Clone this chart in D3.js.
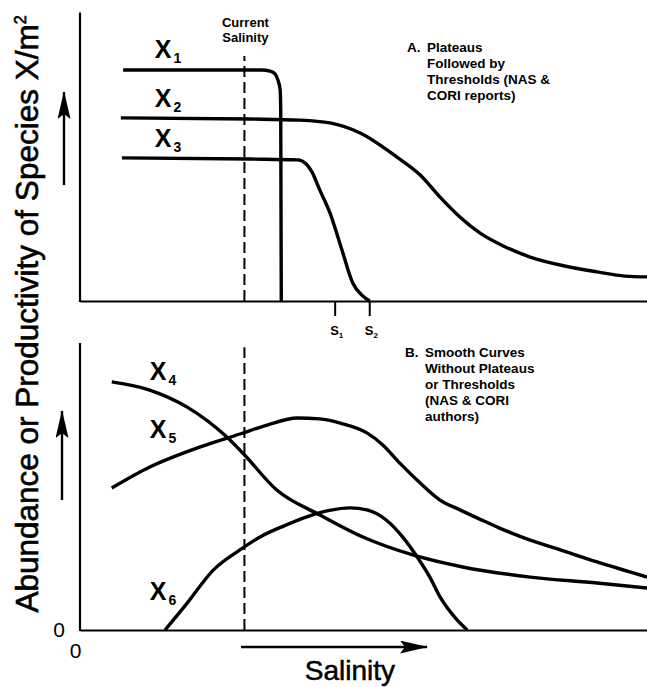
<!DOCTYPE html>
<html>
<head>
<meta charset="utf-8">
<script src="https://cdn.jsdelivr.net/npm/d3@7"></script>
<style>
  body { margin: 0; background: #fff; }
  svg { display: block; font-family: "Liberation Sans", Arial, Helvetica, sans-serif; }
</style>
</head>
<body>
<svg id="chart"></svg>
<script>
var svgWidth = 647, svgHeight = 687;

// salinity (0-100) vs abundance (0-100)
// A. plateaus followed by thresholds
var x1Curve = [[7.6,82.5],[32.1,82.5],[33.5,82.1],[34.4,81.1],[34.9,78.9],[35.3,75.4],[35.4,68.2],[35.5,0]];
var x2Curve = [[7.2,65.4],[30,65],[38.8,64.6],[44.1,63.6],[49.4,60],[55.9,51.4],[60,45],[63.5,37.1],[67,30],[70.5,24.3],[75,19.3],[79.4,15.7],[85.5,12.5],[91.2,10.4],[96.1,8.9],[100,8.6]];
var x3Curve = [[7.4,51.1],[30,50.7],[38.4,50.4],[39.9,48.9],[40.9,46.1],[42.3,39.6],[44.1,31.4],[46.2,18.2],[48.1,6.4],[49.7,2.1],[51.1,0]];

// B. smooth curves without plateaus or thresholds
var x4Curve = [[5.6,88.6],[12.3,85.7],[18.9,79.6],[25.9,68.9],[28.7,63.2],[34.7,50],[42.3,41.1],[49.9,33.2],[58.7,26.8],[67.5,22.5],[79.4,18.9],[91.2,16.8],[100,15]];
var x5Curve = [[5.6,50.7],[12.3,58.2],[21.2,65.4],[28.2,70],[33,73.2],[38.3,75.7],[42.3,75.4],[45.9,73.9],[50.6,70.4],[53.4,66.1],[56.4,59.6],[60,52.5],[63.5,46.4],[67,42.9],[70.5,39.6],[74,36.4],[79.4,32.1],[84.7,28.6],[91.2,24.3],[100,18.9]];
var x6Curve = [[15,0],[18.9,9.6],[23.5,21.4],[28.2,28.6],[32,33.5],[36,37.2],[40,40.4],[44,42.7],[47.6,43.6],[50.6,42.9],[54,39.3],[57,33],[59.5,26],[61.7,18.9],[63.5,11.8],[66.5,3.6],[68.3,0]];

var seriesTop = ["1", "2", "3"];
var seriesBottom = ["4", "5", "6"];
// label anchor (salinity, abundance) for each series name
var labelTop = [[13.2,86.8],[13.2,69.3],[13.2,55]];
var labelBottom = [[12.3,89.3],[12.3,68.6],[12.3,10.7]];

var currentSalinity = 29;
var thresholds = [45, 51.1];
var thresholdNames = ["1", "2"];
var zeroTicks = [0];

var noteA = ["Plateaus", "Followed by", "Thresholds (NAS &", "CORI reports)"];
var noteB = ["Smooth Curves", "Without Plateaus", "or Thresholds", "(NAS & CORI", "authors)"];

var svg = d3.select("svg#chart")
  .attr("width", svgWidth)
  .attr("height", svgHeight);

svg.append("rect").attr("width", svgWidth).attr("height", svgHeight).attr("fill", "#fff");

svg.append("defs").append("marker")
  .attr("id", "head")
  .attr("markerUnits", "userSpaceOnUse")
  .attr("viewBox", "0 0 28 13")
  .attr("markerWidth", 28)
  .attr("markerHeight", 13)
  .attr("refX", 27)
  .attr("refY", 6.5)
  .attr("orient", "auto")
  .append("path")
  .attr("d", "M0,0 L28,6.5 L0,13 L5,6.5 z")
  .attr("fill", "#000");

var x = d3.scaleLinear().domain([0, 100]).range([80, 647]);
var yTop = d3.scaleLinear().domain([0, 100]).range([301, 21]);
var yBot = d3.scaleLinear().domain([0, 100]).range([630, 350]);

var line = function(yScale) {
  return d3.line()
    .x(function(d) { return x(d[0]); })
    .y(function(d) { return yScale(d[1]); })
    .curve(d3.curveMonotoneX);
};

function drawPanel(yScale, curves, names, labels, yMax, dashTop) {
  var g = svg.append("g");

  // axes: just the frame lines
  g.append("g")
    .attr("transform", "translate(0," + yScale(0) + ")")
    .call(d3.axisBottom(x).tickValues([]).tickSizeOuter(0))
    .select(".domain").attr("stroke-width", 2.2);

  g.append("line")
    .attr("x1", x(0)).attr("x2", x(0))
    .attr("y1", yScale(0) + 1).attr("y2", yScale(yMax))
    .attr("stroke", "#000")
    .attr("stroke-width", 2.2);

  // current salinity
  g.append("line")
    .attr("x1", x(currentSalinity)).attr("x2", x(currentSalinity))
    .attr("y1", yScale(0)).attr("y2", yScale(dashTop))
    .attr("stroke", "#000")
    .attr("stroke-width", 2)
    .attr("stroke-dasharray", "11,5");

  g.selectAll("path.curve")
    .data(curves)
    .enter().append("path")
    .attr("class", "curve")
    .attr("d", line(yScale))
    .attr("fill", "none")
    .attr("stroke", "#000")
    .attr("stroke-width", 3.4)
    .attr("stroke-linejoin", "round");

  var lab = g.selectAll("text.series")
    .data(names)
    .enter().append("text")
    .attr("class", "series")
    .attr("x", function(d, i) { return x(labels[i][0]); })
    .attr("y", function(d, i) { return yScale(labels[i][1]); })
    .style("font-size", "25px")
    .style("font-weight", "bold");
  lab.append("tspan").text("X");
  lab.append("tspan")
    .attr("dx", 2).attr("dy", 5)
    .style("font-size", "14px")
    .text(function(d) { return d; });

  return g;
}

var topPanel = drawPanel(yTop, [x1Curve, x2Curve, x3Curve], seriesTop, labelTop, 103, 87.5);
var botPanel = drawPanel(yBot, [x4Curve, x5Curve, x6Curve], seriesBottom, labelBottom, 102.5, 101);

// S1, S2 thresholds
topPanel.selectAll("line.thr")
  .data(thresholds)
  .enter().append("line")
  .attr("class", "thr")
  .attr("x1", function(d) { return x(d); }).attr("x2", function(d) { return x(d); })
  .attr("y1", yTop(0)).attr("y2", yTop(0) + 15)
  .attr("stroke", "#000").attr("stroke-width", 2);

var sLab = topPanel.selectAll("text.thr")
  .data(thresholds)
  .enter().append("text")
  .attr("class", "thr")
  .attr("x", function(d) { return x(d) - 5; })
  .attr("y", yTop(0) + 34)
  .style("font-size", "13px")
  .style("font-weight", "bold");
sLab.append("tspan").text("S");
sLab.append("tspan").attr("dy", 3).style("font-size", "8px")
  .text(function(d, i) { return thresholdNames[i]; });

// current salinity caption
topPanel.append("text")
  .attr("x", x(currentSalinity) + 1)
  .attr("y", 27)
  .attr("text-anchor", "middle")
  .style("font-size", "13px")
  .style("font-weight", "bold")
  .text("Current");
topPanel.append("text")
  .attr("x", x(currentSalinity) + 1)
  .attr("y", 42)
  .attr("text-anchor", "middle")
  .style("font-size", "13px")
  .style("font-weight", "bold")
  .text("Salinity");

function note(letter, lines, x0, y0) {
  svg.append("text")
    .attr("x", x0).attr("y", y0)
    .style("font-size", "13.5px").style("font-weight", "bold")
    .text(letter);
  svg.selectAll(null)
    .data(lines)
    .enter().append("text")
    .attr("x", x0 + 20)
    .attr("y", function(d, i) { return y0 + i * 16; })
    .style("font-size", "13.5px")
    .style("font-weight", "bold")
    .text(function(d) { return d; });
}
note("A.", noteA, 407, 52);
note("B.", noteB, 405, 357);

// zero labels on the lower panel
botPanel.append("g")
  .attr("transform", "translate(" + x(0) + ",0)")
  .call(d3.axisLeft(yBot).tickValues(zeroTicks).tickSize(0).tickPadding(15).tickSizeOuter(0))
  .call(function(a) { a.select(".domain").remove(); })
  .selectAll("text")
  .style("font-size", "21px")
  .attr("font-family", null);

botPanel.append("g")
  .attr("transform", "translate(0," + yBot(0) + ")")
  .call(d3.axisBottom(x).tickValues(zeroTicks).tickSize(0).tickPadding(13).tickSizeOuter(0))
  .call(function(a) { a.select(".domain").remove(); })
  .selectAll("text")
  .attr("dx", -5)
  .style("font-size", "21px")
  .attr("font-family", null);

// direction arrows
svg.append("line")
  .attr("x1", x(0) - 16).attr("x2", x(0) - 16)
  .attr("y1", yTop(41.4)).attr("y2", yTop(74.6))
  .attr("stroke", "#000").attr("stroke-width", 2.4)
  .attr("marker-end", "url(#head)");
svg.append("line")
  .attr("x1", x(0) - 18).attr("x2", x(0) - 18)
  .attr("y1", yBot(46.4)).attr("y2", yBot(78.2))
  .attr("stroke", "#000").attr("stroke-width", 2.4)
  .attr("marker-end", "url(#head)");
svg.append("line")
  .attr("x1", x(28.4)).attr("x2", x(61.2))
  .attr("y1", yBot(0) + 17).attr("y2", yBot(0) + 17)
  .attr("stroke", "#000").attr("stroke-width", 2.4)
  .attr("marker-end", "url(#head)");

// axis titles
svg.append("text")
  .attr("x", 350).attr("y", 680)
  .attr("text-anchor", "middle")
  .style("font-size", "28px")
  .style("stroke", "#000").style("stroke-width", 0.5)
  .text("Salinity");

var yt = svg.append("text")
  .attr("transform", "translate(38,314) rotate(-90)")
  .attr("text-anchor", "middle")
  .style("font-size", "31.5px")
  .style("stroke", "#000").style("stroke-width", 0.6);
yt.append("tspan").text("Abundance or Productivity of Species X/m");
yt.append("tspan").attr("dy", -12).style("font-size", "16px").text("2");
</script>
</body>
</html>
